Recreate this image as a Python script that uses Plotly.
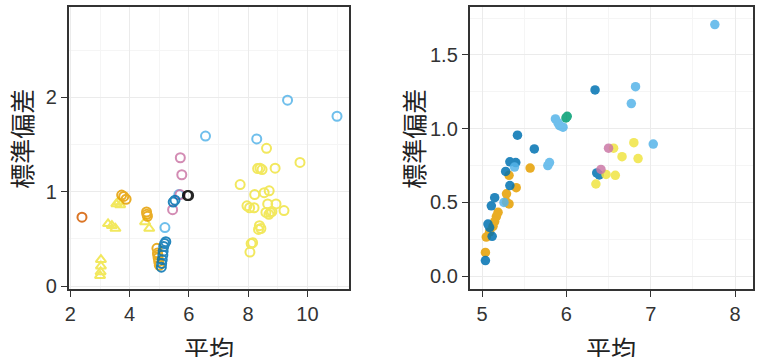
import plotly.graph_objects as go

# ---------------- data: left panel (open markers) ----------------
L_vermillion_x = [2.39]
L_vermillion_y = [0.73]
L_orange_x = [3.73, 3.80, 3.88, 4.57, 4.58, 4.60, 4.92, 4.94, 4.96, 4.98, 5.00, 4.95]
L_orange_y = [0.965, 0.95, 0.92, 0.785, 0.76, 0.74, 0.40, 0.35, 0.30, 0.26, 0.22, 0.33]
L_tri_x = [3.55, 3.62, 3.68, 3.27, 3.40, 3.52, 3.03, 3.03, 3.02, 3.00, 4.52, 4.66]
L_tri_y = [0.87, 0.89, 0.86, 0.66, 0.64, 0.61, 0.28, 0.21, 0.15, 0.11, 0.68, 0.61]
L_blue_x = [5.07, 5.08, 5.10, 5.12, 5.13, 5.15, 5.18, 5.22, 5.47, 5.53]
L_blue_y = [0.20, 0.24, 0.28, 0.33, 0.37, 0.42, 0.45, 0.47, 0.89, 0.91]
L_sky_x = [5.19, 5.66, 6.56, 8.29, 9.33, 11.00]
L_sky_y = [0.62, 0.97, 1.59, 1.56, 1.97, 1.80]
L_pink_x = [5.71, 5.76, 5.70, 5.45]
L_pink_y = [1.36, 1.18, 0.97, 0.81]
L_black_x = [5.95, 5.99]
L_black_y = [0.96, 0.96]
L_yellow_x = [8.62, 9.75, 8.91, 8.32, 8.40, 8.47, 7.73, 8.22, 8.54, 8.71, 7.96, 8.05, 8.20,
              8.66, 8.94, 9.21, 8.60, 8.70, 8.80, 8.75, 8.38, 8.43, 8.35, 8.15, 8.10, 8.06]
L_yellow_y = [1.46, 1.31, 1.25, 1.245, 1.25, 1.235, 1.076, 0.97, 0.99, 1.01, 0.85, 0.83, 0.83,
              0.87, 0.87, 0.80, 0.78, 0.76, 0.79, 0.78, 0.64, 0.61, 0.60, 0.46, 0.45, 0.36]

# ---------------- data: right panel (filled markers) ----------------
R_sky_x = [7.76, 6.82, 6.77, 7.03, 5.87, 5.90, 5.92, 5.96, 5.80, 5.78, 5.385, 5.26]
R_sky_y = [1.706, 1.285, 1.17, 0.896, 1.066, 1.04, 1.02, 1.01, 0.77, 0.75, 0.74, 0.50]
R_green_x = [5.995, 6.01]
R_green_y = [1.073, 1.084]
R_blue_x = [6.34, 5.42, 5.62, 5.33, 5.40, 5.28, 5.33, 5.15, 5.11, 5.07, 5.09, 5.12, 5.04, 6.36, 6.39]
R_blue_y = [1.263, 0.956, 0.863, 0.775, 0.77, 0.71, 0.614, 0.532, 0.477, 0.353, 0.33, 0.27, 0.106, 0.70, 0.686]
R_orange_x = [5.57, 5.32, 5.405, 5.29, 5.29, 5.32, 5.19, 5.17, 5.15, 5.13, 5.09, 5.05, 5.04]
R_orange_y = [0.733, 0.684, 0.60, 0.558, 0.503, 0.49, 0.433, 0.404, 0.37, 0.338, 0.30, 0.265, 0.161]
R_pink_x = [6.50, 6.41]
R_pink_y = [0.868, 0.724]
R_yellow_x = [6.56, 6.80, 6.66, 6.85, 6.58, 6.47, 6.35]
R_yellow_y = [0.868, 0.905, 0.81, 0.797, 0.684, 0.69, 0.625]

# ---------------- tick labels ----------------
L_xticks = [2, 4, 6, 8, 10]
L_yticks = [0, 1, 2]
R_xticks = [5, 6, 7, 8]
R_yticks = [0.0, 0.5, 1.0, 1.5]
x_title = "平均"
y_title = "標準偏差"

C = {"orange": "#E69F00", "sky": "#56B4E9", "green": "#009E73", "yellow": "#F0E442",
     "blue": "#0072B2", "vermillion": "#D55E00", "pink": "#CC79A7", "black": "#000000"}

fig = go.Figure()

def open_trace(x, y, color, symbol="circle-open"):
    fig.add_trace(go.Scatter(x=x, y=y, mode="markers", xaxis="x", yaxis="y",
                             marker=dict(symbol=symbol, size=9, color=color,
                                         line=dict(width=2, color=color)),
                             opacity=0.85, showlegend=False, hoverinfo="skip"))

open_trace(L_yellow_x, L_yellow_y, C["yellow"])
open_trace(L_tri_x, L_tri_y, C["yellow"], "triangle-up-open")
open_trace(L_vermillion_x, L_vermillion_y, C["vermillion"])
open_trace(L_orange_x, L_orange_y, C["orange"])
open_trace(L_sky_x, L_sky_y, C["sky"])
open_trace(L_pink_x, L_pink_y, C["pink"])
open_trace(L_blue_x, L_blue_y, C["blue"])
open_trace(L_black_x, L_black_y, C["black"])

def filled_trace(x, y, color):
    fig.add_trace(go.Scatter(x=x, y=y, mode="markers", xaxis="x2", yaxis="y2",
                             marker=dict(symbol="circle", size=9.5, color=color, line=dict(width=0)),
                             opacity=0.85, showlegend=False, hoverinfo="skip"))

filled_trace(R_orange_x, R_orange_y, C["orange"])
filled_trace(R_blue_x, R_blue_y, C["blue"])
filled_trace(R_sky_x, R_sky_y, C["sky"])
filled_trace(R_green_x, R_green_y, C["green"])
filled_trace(R_yellow_x, R_yellow_y, C["yellow"])
filled_trace(R_pink_x, R_pink_y, C["pink"])

axis_common = dict(showline=True, mirror=True, linecolor="#333333", linewidth=1.8,
                   ticks="outside", ticklen=6, tickwidth=1.4, tickcolor="#333333",
                   showgrid=True, gridcolor="#EBEBEB", gridwidth=1, zeroline=False,
                   tickfont=dict(family="Liberation Sans, Arial, sans-serif", size=20, color="#333333"))

def minor(d):
    return dict(showgrid=True, gridcolor="#F5F5F5", gridwidth=0.6, dtick=d)

ydom = [0.1723, 0.9804]
fig.update_layout(
    width=770, height=357, margin=dict(l=0, r=0, t=0, b=0),
    paper_bgcolor="white", plot_bgcolor="white",
    xaxis=dict(axis_common, domain=[0.0844, 0.4506], range=[1.94, 11.41],
               tickvals=L_xticks, anchor="y", minor=minor(1)),
    yaxis=dict(axis_common, domain=ydom, range=[-0.03, 2.96], tickvals=L_yticks, anchor="x",
               minor=minor(0.5)),
    xaxis2=dict(axis_common, domain=[0.608, 0.9775], range=[4.854, 8.21],
                tickvals=R_xticks, anchor="y2", minor=minor(0.5)),
    yaxis2=dict(axis_common, domain=ydom, range=[-0.086, 1.826], tickvals=R_yticks,
                tickformat=".1f", anchor="x2", minor=minor(0.25)),
)

title_font = dict(family="Noto Sans CJK JP, sans-serif", size=25, color="#222222")
for xc in [(0.0844 + 0.4506) / 2, (0.608 + 0.9775) / 2]:
    fig.add_annotation(text=x_title, xref="paper", yref="paper", x=xc, y=(357 - 336) / 357,
                       xanchor="center", yanchor="top", showarrow=False, font=title_font)
for xc in [17 / 770, 411 / 770]:
    fig.add_annotation(text=y_title, xref="paper", yref="paper", x=xc, y=1 - 142 / 357,
                       xanchor="center", yanchor="middle", textangle=-90, showarrow=False,
                       font=title_font)

fig.write_html("out.html")
